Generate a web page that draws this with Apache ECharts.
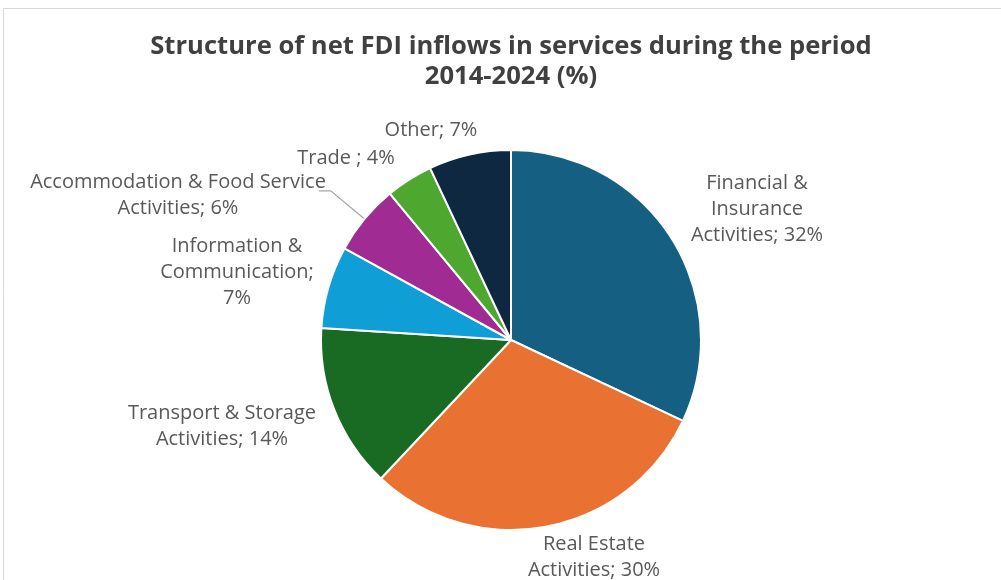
<!DOCTYPE html>
<html>
<head>
<meta charset="utf-8">
<script src="https://cdn.jsdelivr.net/npm/echarts@6/dist/echarts.min.js"></script>
<style>
  html, body { margin: 0; padding: 0; background: #ffffff; }
  #chart { width: 1001px; height: 580px; }
</style>
</head>
<body>
<div id="chart"></div>
<script>
// Service sectors, in clockwise order from 12 o'clock
const categories = [
  'Financial & Insurance Activities',
  'Real Estate Activities',
  'Transport & Storage Activities',
  'Information & Communication',
  'Accommodation & Food Service Activities',
  'Trade',
  'Other'
];
// Share of net FDI inflows, %
const shares = [32, 30, 14, 7, 6, 4, 7];
// Slice colours
const sliceColors = ['#156082', '#E97132', '#196B24', '#0F9ED5', '#A02B93', '#4EA72E', '#0E2841'];
// Wrapped label text (the value is appended by the formatter)
const labelWraps = [
  ['Financial &', 'Insurance', 'Activities; '],
  ['Real Estate', 'Activities; '],
  ['Transport & Storage', 'Activities; '],
  ['Information &', 'Communication;', ''],
  ['Accommodation & Food Service', 'Activities; '],
  ['Trade ; '],
  ['Other; ']
];
// Centre of each label block on the canvas
const labelSpots = [
  [757, 209], [594, 557], [222, 426], [237, 272], [178, 195], [346, 158], [431, 130]
];

const chart = echarts.init(document.getElementById('chart'), null, { renderer: 'canvas' });

const pieData = categories.map((name, i) => {
  const item = { name: name, value: shares[i], itemStyle: { color: sliceColors[i] } };
  if (name.startsWith('Accommodation')) {
    item.labelLine = { show: true, length: 44, length2: 12, lineStyle: { color: '#a6a6a6', width: 1.3 } };
  }
  return item;
});

chart.setOption({
  backgroundColor: '#ffffff',
  animation: false,
  graphic: [{
    type: 'rect',
    shape: { x: 3.5, y: 8.5, width: 1100, height: 700 },
    style: { fill: 'none', stroke: '#d6d6d6', lineWidth: 1 },
    silent: true
  }],
  title: {
    text: 'Structure of net FDI inflows in services during the period\n2014-2024 (%)',
    left: 511,
    top: 32,
    padding: 0,
    textAlign: 'center',
    textStyle: {
      fontFamily: '"Open Sans", sans-serif',
      fontWeight: 'bold',
      fontSize: 25.6,
      lineHeight: 30,
      color: '#404040'
    }
  },
  series: [{
    type: 'pie',
    center: [511, 340],
    radius: [0, 190],
    startAngle: 90,
    clockwise: true,
    avoidLabelOverlap: false,
    itemStyle: { borderColor: '#ffffff', borderWidth: 2 },
    label: {
      show: true,
      position: 'outside',
      fontFamily: '"Open Sans", sans-serif',
      fontSize: 20,
      lineHeight: 26,
      color: '#595959',
      align: 'center',
      formatter: (p) => {
        const lines = labelWraps[p.dataIndex].slice();
        lines[lines.length - 1] += p.value + '%';
        return lines.join('\n');
      }
    },
    labelLine: { show: false },
    labelLayout: (params) => {
      const spot = labelSpots[params.dataIndex];
      return {
        x: spot[0],
        y: spot[1],
        align: 'center',
        verticalAlign: 'middle',
        labelLinePoints: params.labelLinePoints
      };
    },
    emphasis: { disabled: true },
    data: pieData
  }]
});
</script>
</body>
</html>
